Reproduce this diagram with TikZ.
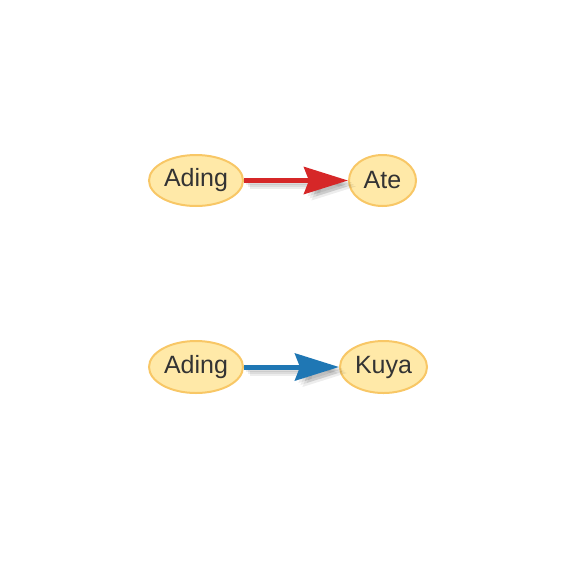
\documentclass[tikz,border=0pt]{standalone}
\usepackage{fontspec}
\setmainfont{Liberation Sans}
\usetikzlibrary{arrows.meta,shapes.geometric}
\definecolor{nodefill}{HTML}{FFE9A8}
\definecolor{nodeline}{HTML}{F8C766}
\definecolor{edgered}{HTML}{D62728}
\definecolor{edgeblue}{HTML}{1F77B4}
\definecolor{labeltext}{HTML}{333333}
\begin{document}
\begin{tikzpicture}[
  x=1pt,y=-1pt,
  person/.style={ellipse, draw=nodeline, fill=nodefill, line width=2pt,
                 inner sep=0pt, text=labeltext,
                 font=\fontsize{25}{29}\selectfont},
  rel/.style={line width=5pt, -{Stealth[length=44pt,width=27pt,inset=5pt]}},
  relshadow/.style={rel, draw=black, opacity=0.07, shorten >=-2pt}
]
  \useasboundingbox (0,0) rectangle (561,560);

  \node[person,minimum width=94pt,minimum height=51pt] (ading1) at (196,180.5) {Ading};
  \node[person,minimum width=67pt,minimum height=51pt] (ate) at (382.5,180.5) {Ate};
  \node[person,minimum width=94pt,minimum height=52pt] (ading2) at (196,367) {Ading};
  \node[person,minimum width=87pt,minimum height=52pt] (kuya) at (383.5,367) {Kuya};

  % soft shadows under the arrows
  \foreach \s in {2,4,6} {
    \begin{scope}[transform canvas={shift={(\s pt,-\s pt)}}]
      \draw[relshadow] (ading1) -- (ate);
      \draw[relshadow] (ading2) -- (kuya);
    \end{scope}
  }

  \draw[rel,draw=edgered,fill=edgered] (ading1) -- (ate);
  \draw[rel,draw=edgeblue,fill=edgeblue] (ading2) -- (kuya);
\end{tikzpicture}
\end{document}
